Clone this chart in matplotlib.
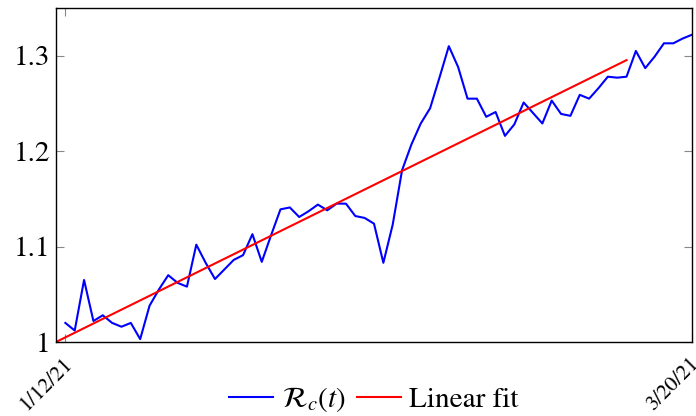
import numpy as np
import matplotlib
matplotlib.use("Agg")
import matplotlib.pyplot as plt

plt.rcParams['font.family'] = ['STIXGeneral', 'DejaVu Serif']
plt.rcParams['mathtext.fontset'] = 'stix'

# R_c(t), one value per day from 1/12/21 (day 0) to 3/20/21 (day 67)
rc_values = [1.020, 1.012, 1.065, 1.022, 1.028, 1.020, 1.016, 1.020, 1.003, 1.038,
             1.055, 1.070, 1.062, 1.058, 1.102, 1.083, 1.066, 1.076, 1.086, 1.091,
             1.113, 1.084, 1.112, 1.139, 1.141, 1.131, 1.137, 1.144, 1.138, 1.145,
             1.145, 1.132, 1.130, 1.124, 1.083, 1.123, 1.180, 1.207, 1.229, 1.245,
             1.277, 1.310, 1.288, 1.255, 1.255, 1.236, 1.241, 1.216, 1.228, 1.251,
             1.240, 1.229, 1.253, 1.239, 1.237, 1.259, 1.255, 1.266, 1.278, 1.277,
             1.278, 1.305, 1.287, 1.299, 1.313, 1.313, 1.318, 1.322]
days = np.arange(len(rc_values))

# linear fit: start/end day, value at start, slope per day
fit_range = [-1, 60]
fit_start = 1.0
fit_slope = 0.004842

tick_days = [0, 67]
tick_labels = ["1/12/21", "3/20/21"]
y_ticks = [1.0, 1.1, 1.2, 1.3]
y_labels = ["1", "1.1", "1.2", "1.3"]

fig = plt.figure(figsize=(6.96, 4.16), dpi=100)
ax = fig.add_axes([56 / 696, 74 / 416, 636 / 696, 334 / 416])

ax.plot(days, rc_values, color=(0, 0, 1), lw=1.5, label=r"$\mathcal{R}_c(t)$")
fx = np.array(fit_range)
ax.plot(fx, fit_start + fit_slope * (fx - fit_range[0]), color=(1, 0, 0), lw=1.5,
        label="Linear fit")

ax.set_xlim(-1, 67)
ax.set_ylim(1.0, 1.35)
ax.set_xticks(tick_days)
ax.set_xticklabels([])
# rotated date labels, placed like pgfplots does it
for d, lbl in zip(tick_days, tick_labels):
    ax.annotate(lbl, xy=(d, 0), xycoords=('data', 'axes fraction'),
                xytext=(-1.7, -8.7), textcoords='offset points',
                rotation=45, ha='right', va='top', rotation_mode='anchor',
                fontsize=15.5, annotation_clip=False)
ax.set_yticks(y_ticks)
ax.set_yticklabels(y_labels, fontsize=21)
ax.tick_params(direction='in', top=True, right=True, length=6, width=0.8,
               color='#888888', pad=4)
for s in ax.spines.values():
    s.set_linewidth(1.0)

ax.legend(loc='upper center', bbox_to_anchor=(0.5, -0.095), ncol=2, frameon=False,
          fontsize=21, handlelength=1.5, handletextpad=0.3, columnspacing=0.4,
          borderaxespad=0)

plt.savefig("out.png", dpi=100)
plt.close()
